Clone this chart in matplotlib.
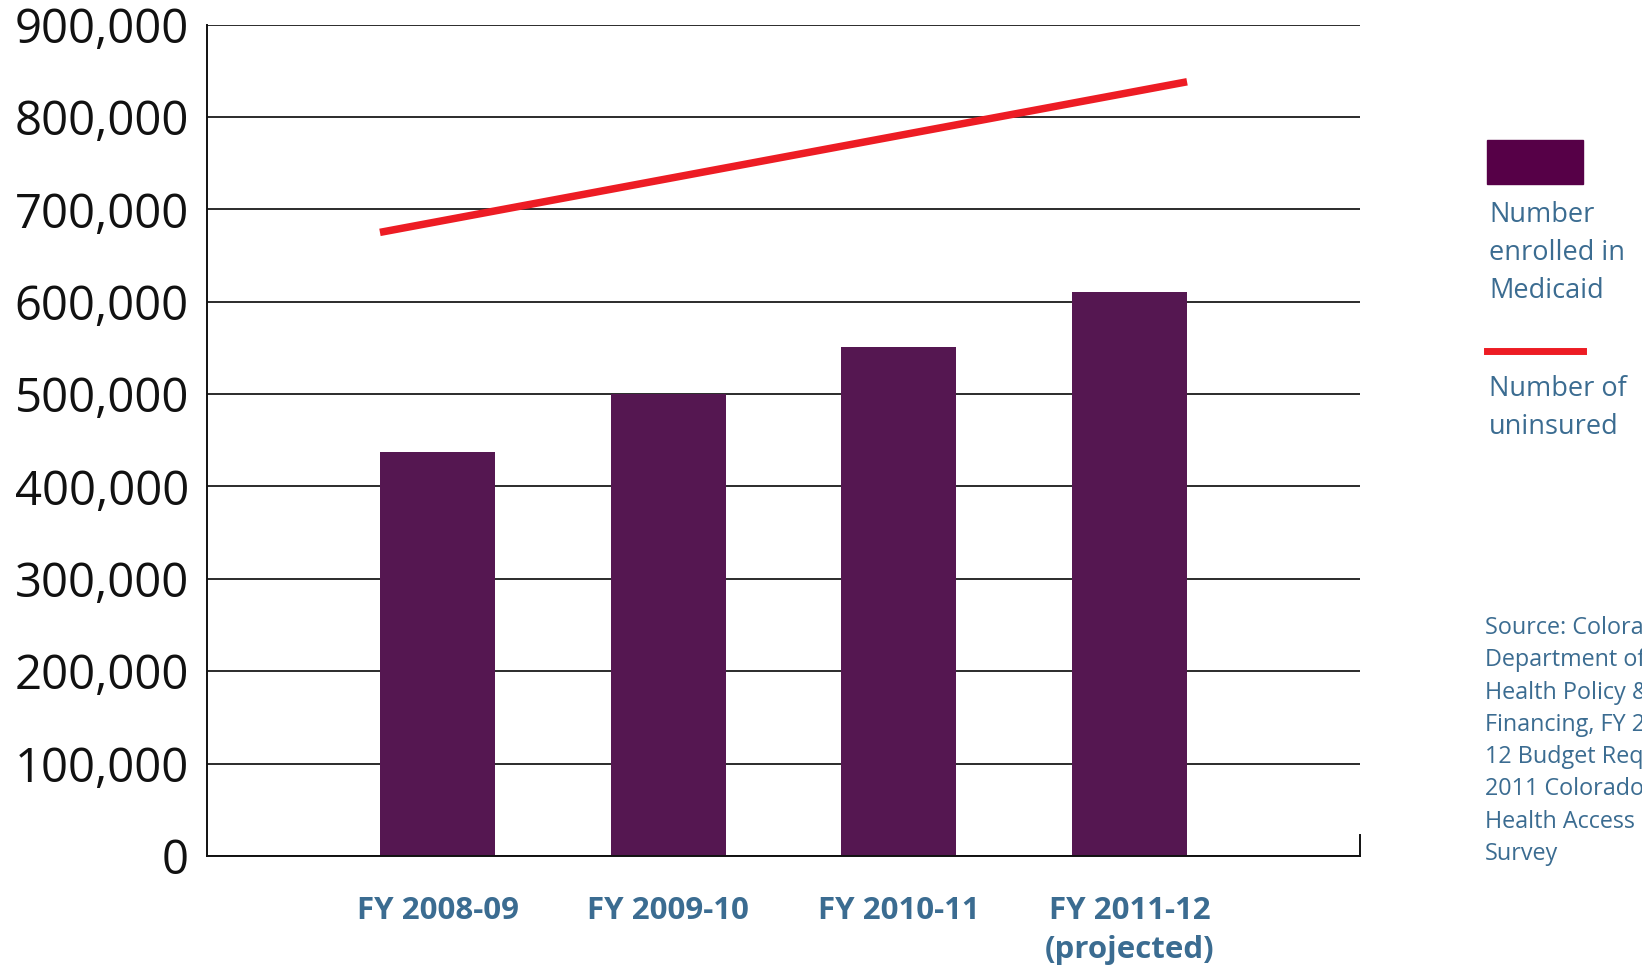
import matplotlib.pyplot as plt
from matplotlib.ticker import FuncFormatter

years = ["FY 2008-09", "FY 2009-10", "FY 2010-11", "FY 2011-12\n(projected)"]
enrolled = [437000, 500000, 551000, 610000]
uninsured_ends = [675000, 838000]  # straight line drawn over the bar span
y_ticks = list(range(0, 900001, 100000))

source_lines = ["Source: Colorado", "Department of", "Health Policy &",
                "Financing, FY 2011-", "12 Budget Request;", "2011 Colorado",
                "Health Access", "Survey"]

bar_color = "#551751"
red = "#ed1c24"
blue = "#3b6c91"

plt.rcParams['font.family'] = ['Open Sans', 'DejaVu Sans']

fig = plt.figure(figsize=(16.42, 9.68), dpi=100)
ax = fig.add_axes([207 / 1642, 1 - 856 / 968, 1153 / 1642, (856 - 24.5) / 968])

x = list(range(len(years)))
w = 0.5
ax.bar(x, enrolled, width=w, color=bar_color, zorder=2)
ax.plot([x[0] - w / 2, x[-1] + w / 2], uninsured_ends, color=red, lw=5.4,
        solid_capstyle='butt', zorder=3)

ax.set_xlim(-1, 4)
ax.set_ylim(0, 900000)
ax.set_yticks(y_ticks)
ax.yaxis.set_major_formatter(FuncFormatter(lambda v, p: f"{int(v):,}"))
ax.grid(axis='y', color='#1a1a1a', lw=1.3, zorder=1)
ax.grid(axis='x', visible=False)
for s in ['top', 'right']:
    ax.spines[s].set_visible(False)
for s in ['left', 'bottom']:
    ax.spines[s].set_color('#111111')
    ax.spines[s].set_linewidth(1.4)
# small end tick at bottom right
ax.plot([1, 1], [0, 0.025], transform=ax.transAxes, color='#111111', lw=1.4,
        clip_on=False)

ax.tick_params(axis='y', length=0, pad=13, labelsize=34, labelcolor='#111111')
ax.tick_params(axis='x', length=0, pad=29)
ax.set_xticks(x)
ax.set_xticklabels(years, fontsize=22.5, fontweight='bold', color=blue,
                   linespacing=1.38)

# legend
fig.patches.append(plt.Rectangle((1487 / 1642, 1 - 184 / 968), 96 / 1642, 44 / 968,
                                 transform=fig.transFigure, color='#560047'))
fig.lines.append(plt.Line2D([1487 / 1642, 1583 / 1642], [1 - 350.5 / 968] * 2,
                            transform=fig.transFigure, color=red, lw=5))
fig.text(1489 / 1642, 1 - 201 / 968, "Number\nenrolled in\nMedicaid",
         fontsize=19.5, color=blue, va='top', ha='left', linespacing=1.48)
fig.text(1489 / 1642, 1 - 375 / 968, "Number of\nuninsured",
         fontsize=19.5, color=blue, va='top', ha='left', linespacing=1.48)
fig.text(1485 / 1642, 1 - 616 / 968, "\n".join(source_lines),
         fontsize=16.8, color=blue, va='top', ha='left', linespacing=1.46)

fig.savefig("out.png", dpi=100)
